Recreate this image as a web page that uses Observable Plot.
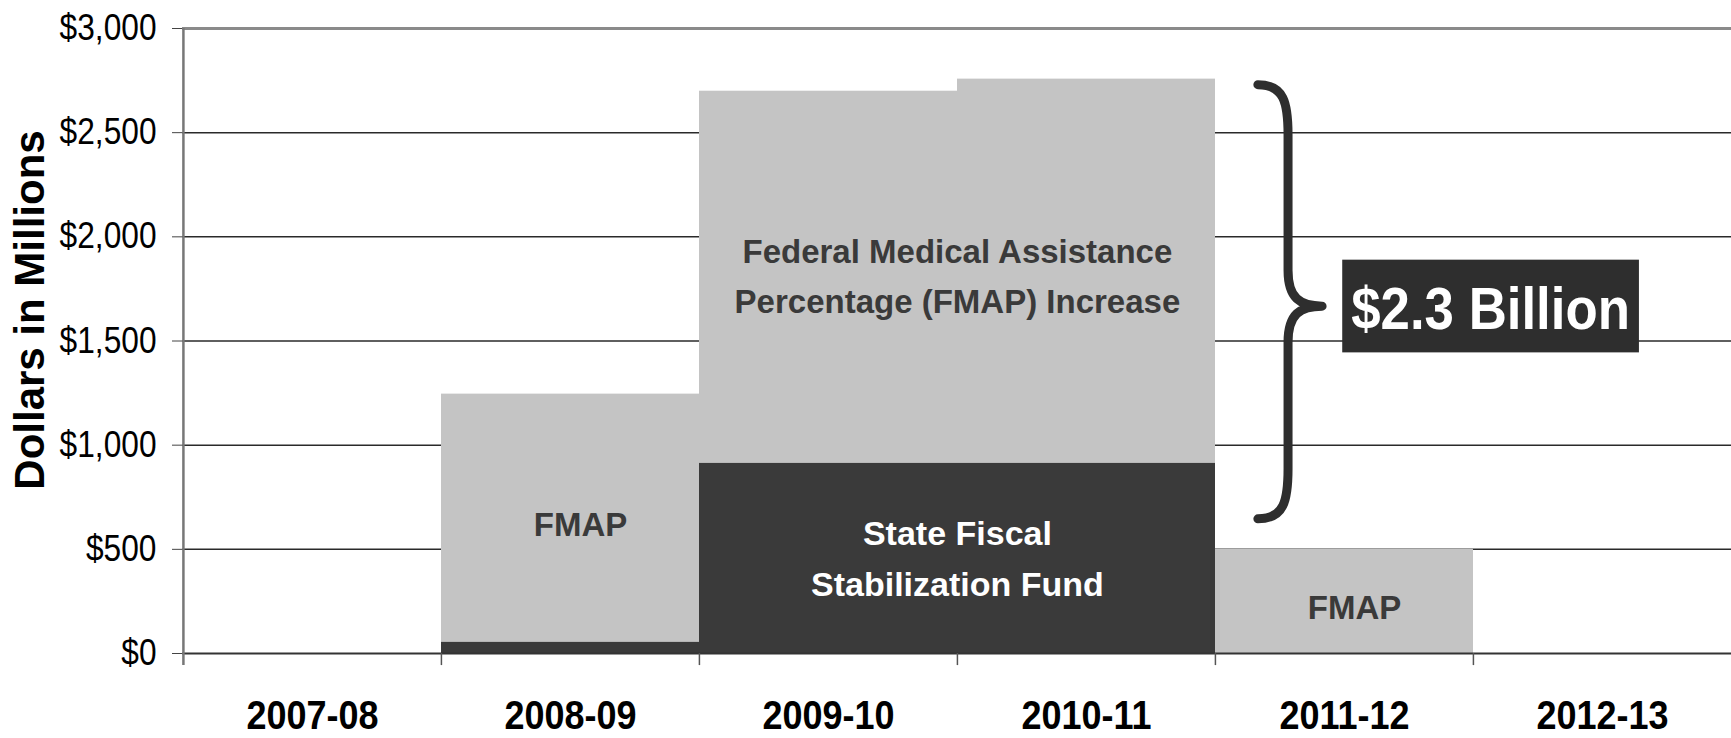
<!DOCTYPE html>
<html><head><meta charset="utf-8">
<script src="https://cdn.jsdelivr.net/npm/d3@7"></script>
<script src="https://cdn.jsdelivr.net/npm/@observablehq/plot@0.6"></script>
<style>html,body{margin:0;padding:0;background:#fff;overflow:hidden}</style>
</head><body><div id="chart"></div>
<script>
// ---- data ----
const categories = ["2007-08", "2008-09", "2009-10", "2010-11", "2011-12", "2012-13"];
const sfsfValues = [0, 55, 914, 914, 0, 0];          // State Fiscal Stabilization Fund (dark)
const fmapValues = [0, 1190, 1785, 1843, 500, 0];    // FMAP increase (light)
const seriesNames = ["State Fiscal Stabilization Fund", "FMAP"];
const seriesColors = ["#3a3a3a", "#c4c4c4"];
const yTicks = [0, 500, 1000, 1500, 2000, 2500, 3000];
const gridValues = [500, 1000, 1500, 2000, 2500];
const yLabel = "Dollars in Millions";
const bigLabel = {cat: "2010-11", y: 1830, text: "Federal Medical Assistance\nPercentage (FMAP) Increase"};
const sfsfLabel = {cat: "2010-11", y: 476, text: "State Fiscal\nStabilization Fund"};
const fmapLabels = [{cat: "2008-09", y: 615, text: "FMAP"}, {cat: "2011-12", y: 216, text: "FMAP"}];
const bracket = {cat: "2011-12", top: 2728, bottom: 644, mid: 1665, text: "$2.3 Billion", boxTop: 1888, boxBottom: 1443};

const rows = [];
categories.forEach((c, i) => {
  rows.push({year: c, series: seriesNames[0], value: sfsfValues[i]});
  rows.push({year: c, series: seriesNames[1], value: fmapValues[i]});
});

const W = 1731, H = 738, ML = 182, MR = 0, MT = 28, MB = 85;
const bw = (W - ML - MR) / categories.length;
const FONT = "'Liberation Sans', Arial, sans-serif";
const INK = "#2e2e2e";

function annotation(index, scales, values, dims) {
  const x = scales.x, y = scales.y;
  const shift = x(categories[0]) - dims.marginLeft;
  const step = x(categories[1]) - x(categories[0]);
  const px = (cat, f) => x(cat) - shift + f * step;
  const xl = px(bracket.cat, 0.17), xs = px(bracket.cat, 0.287), xp = px(bracket.cat, 0.419);
  const yT = y(bracket.top), yB = y(bracket.bottom), yM = y(bracket.mid);
  const r = 50, rm = 36;
  const p = d3.path();
  p.moveTo(xl, yT);
  p.bezierCurveTo(xs - 4, yT, xs, yT + 18, xs, yT + r);
  p.lineTo(xs, yM - rm);
  p.bezierCurveTo(xs, yM - 8, xs + 12, yM, xp, yM);
  p.bezierCurveTo(xs + 12, yM, xs, yM + 8, xs, yM + rm);
  p.lineTo(xs, yB - r);
  p.bezierCurveTo(xs, yB - 18, xs - 4, yB, xl, yB);
  const g = d3.create("svg:g");
  g.append("path").attr("d", p.toString()).attr("fill", "none").attr("stroke", INK)
    .attr("stroke-width", 9).attr("stroke-linecap", "round").attr("stroke-linejoin", "round");
  const bx1 = px(bracket.cat, 0.497), bx2 = px(categories[5], 0.647);
  const by1 = y(bracket.boxTop), by2 = y(bracket.boxBottom);
  g.append("rect").attr("x", bx1).attr("y", by1).attr("width", bx2 - bx1).attr("height", by2 - by1).attr("fill", INK);
  g.append("text").attr("class", "squeeze").attr("x", (bx1 + bx2) / 2).attr("y", (by1 + by2) / 2).attr("dy", "0.38em")
    .attr("text-anchor", "middle").attr("fill", "#fff").attr("font-family", FONT)
    .attr("font-weight", "bold").attr("font-size", 60).text(bracket.text);
  return g.node();
}

const chart = Plot.plot({
  width: W, height: H,
  marginLeft: ML, marginRight: MR, marginTop: MT, marginBottom: MB,
  style: {fontFamily: FONT, background: "#fff", overflow: "visible"},
  x: {domain: categories, padding: 0, axis: null},
  y: {domain: [0, 3000], axis: null},
  color: {domain: seriesNames, range: seriesColors},
  marks: [
    Plot.ruleY(gridValues, {stroke: "#2a2a2a", strokeWidth: 1.5}),
    Plot.ruleY([3000], {stroke: "#8a8a8a", strokeWidth: 3}),
    Plot.barY(rows, {x: "year", y: "value", fill: "series"}),
    Plot.ruleY([0], {stroke: "#333", strokeWidth: 2}),
    Plot.ruleX([categories[0]], {x: d => d, y1: 3000, y2: -58, dx: -bw / 2, stroke: "#777", strokeWidth: 2.5}),
    Plot.ruleX(categories.slice(1), {x: d => d, y1: 0, y2: -58, dx: -bw / 2, stroke: "#555", strokeWidth: 1.5}),
    Plot.axisY({ticks: yTicks, tickFormat: d => "$" + d3.format(",")(d), tickSize: 10, tickPadding: 16,
      fontSize: 36, label: null, color: "#000", stroke: "#444"}),
    Plot.axisX({tickSize: 0, tickPadding: 47, fontSize: 40, fontWeight: "bold", label: null, color: "#000"}),
    Plot.text([yLabel], {frameAnchor: "left", textAnchor: "middle", rotate: -90, dx: -152, dy: -31, text: d => d,
      fontWeight: "bold", fontSize: 42, fill: "#000"}),
    Plot.text([bigLabel], {x: "cat", y: "y", text: "text", dx: -bw / 2, fontSize: 33, fontWeight: "bold",
      lineHeight: 1.5, fill: "#3a3a3a"}),
    Plot.text([sfsfLabel], {x: "cat", y: "y", text: "text", dx: -bw / 2, fontSize: 34, fontWeight: "bold",
      lineHeight: 1.5, fill: "#fff"}),
    Plot.text(fmapLabels, {x: "cat", y: "y", text: "text", dx: 10, fontSize: 33, fontWeight: "bold", fill: "#3a3a3a"}),
    annotation
  ]
});
document.getElementById("chart").append(chart);

// condense the narrow-style texts horizontally (the reference uses a condensed face)
function squeeze(sel, k) {
  sel.each(function () {
    const L = this.getComputedTextLength();
    this.setAttribute("textLength", (L * k).toFixed(1));
    this.setAttribute("lengthAdjust", "spacingAndGlyphs");
  });
}
const root = d3.select(chart);
squeeze(root.selectAll('[aria-label="y-axis tick label"] text'), 0.88);
squeeze(root.selectAll('[aria-label="x-axis tick label"] text'), 0.9);
squeeze(root.selectAll('text.squeeze'), 0.88);
</script>
</body></html>
